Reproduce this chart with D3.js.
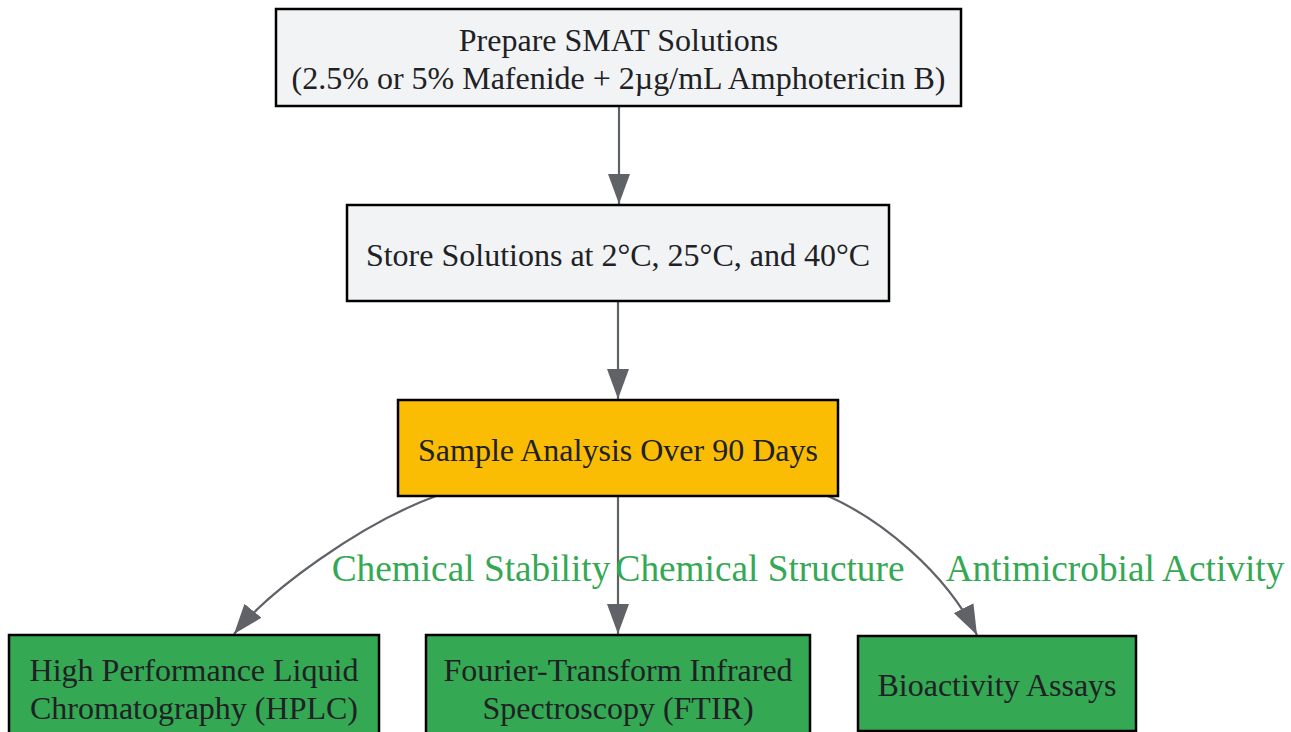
<!DOCTYPE html>
<html>
<head>
<meta charset="utf-8">
<script src="https://cdn.jsdelivr.net/npm/d3@7"></script>
<style>
  body { margin: 0; background: #fff; }
  svg { display: block; font-family: "Liberation Serif", "Times New Roman", serif; }
</style>
</head>
<body>
<svg id="chart" width="1291" height="732"></svg>
<script>
// node ids, labels and colour group
const nodeIds = ["prep", "store", "sample", "hplc", "ftir", "bio"];
const nodeLabels = [
  ["Prepare SMAT Solutions", "(2.5% or 5% Mafenide + 2µg/mL Amphotericin B)"],
  ["Store Solutions at 2°C, 25°C, and 40°C"],
  ["Sample Analysis Over 90 Days"],
  ["High Performance Liquid", "Chromatography (HPLC)"],
  ["Fourier-Transform Infrared", "Spectroscopy (FTIR)"],
  ["Bioactivity Assays"]
];
const nodeKinds = ["step", "step", "hub", "method", "method", "method"];

// edges: source, target, label
const edgeSources = ["prep", "store", "sample", "sample", "sample"];
const edgeTargets = ["store", "sample", "hplc", "ftir", "bio"];
const edgeLabels = ["", "", "Chemical Stability", "Chemical Structure", "Antimicrobial Activity"];

// layout (boxes as x0, y0, x1, y1)
const boxes = {
  prep:   [276, 9, 961, 106],
  store:  [347, 205, 889, 301],
  sample: [398, 400, 838, 496],
  hplc:   [9, 635, 379, 739],
  ftir:   [426, 635, 810, 739],
  bio:    [858, 636, 1136, 731]
};
// edge geometry: start x offset on source bottom, end x offset on target top, control offsets
const edgeGeo = {
  "prep-store":   { s: 0 },
  "store-sample": { s: 0 },
  "sample-hplc":  { s: -182, t: 40, c1: [-76, 28], c2: [36, -44] },
  "sample-ftir":  { s: 0 },
  "sample-bio":   { s: 210, t: -20, c1: [52, 23], c2: [-32, -64] }
};
const labelPos = {
  "Chemical Stability": [471, 581],
  "Chemical Structure": [760, 581],
  "Antimicrobial Activity": [1115, 581]
};

const fills = { step: "#f1f3f4", hub: "#fbbc04", method: "#34a853" };
const edgeColor = "#5f6368";
const green = "#34a853";

const svg = d3.select("#chart");

svg.append("defs").append("marker")
  .attr("id", "arrow")
  .attr("viewBox", "0 0 30 22")
  .attr("refX", 30).attr("refY", 11)
  .attr("markerWidth", 30).attr("markerHeight", 22)
  .attr("markerUnits", "userSpaceOnUse")
  .attr("orient", "auto")
  .append("path")
  .attr("d", "M0,0 L30,11 L0,22 Z")
  .attr("fill", edgeColor);

const nodes = nodeIds.map((id, i) => ({ id, lines: nodeLabels[i], kind: nodeKinds[i], box: boxes[id] }));
const edges = edgeSources.map((s, i) => ({ source: s, target: edgeTargets[i], label: edgeLabels[i] }));

function edgePath(e) {
  const a = boxes[e.source], b = boxes[e.target];
  const g = edgeGeo[e.source + "-" + e.target];
  const sx = Math.round((a[0] + a[2]) / 2) + g.s, sy = a[3];
  const ty = b[1] - 1;
  const p = d3.path();
  p.moveTo(sx, sy);
  if (g.c1) {
    const tx = (b[0] + b[2]) / 2 + g.t;
    p.bezierCurveTo(sx + g.c1[0], sy + g.c1[1], tx + g.c2[0], ty + g.c2[1], tx, ty);
  } else {
    // straight down
    p.lineTo(sx, ty);
  }
  return p.toString();
}

svg.append("g").selectAll("path")
  .data(edges).enter().append("path")
  .attr("d", edgePath)
  .attr("fill", "none")
  .attr("stroke", edgeColor)
  .attr("stroke-width", 2.2)
  .attr("marker-end", "url(#arrow)");

const ng = svg.append("g").selectAll("g")
  .data(nodes).enter().append("g");

ng.append("rect")
  .attr("x", d => d.box[0]).attr("y", d => d.box[1])
  .attr("width", d => d.box[2] - d.box[0])
  .attr("height", d => d.box[3] - d.box[1])
  .attr("fill", d => fills[d.kind])
  .attr("stroke", "#000")
  .attr("stroke-width", 2.5);

const lineH = 38;
ng.each(function(d) {
  const cx = (d.box[0] + d.box[2]) / 2;
  const cy = (d.box[1] + d.box[3]) / 2;
  const n = d.lines.length;
  d3.select(this).selectAll("text")
    .data(d.lines).enter().append("text")
    .attr("x", cx)
    .attr("y", (l, i) => cy + (i - (n - 1) / 2) * lineH + 1.5)
    .attr("dy", "0.35em")
    .attr("text-anchor", "middle")
    .attr("font-size", 32)
    .attr("fill", "#202124")
    .text(l => l);
});

svg.append("g").selectAll("text")
  .data(edges.filter(e => e.label)).enter().append("text")
  .attr("x", d => labelPos[d.label][0])
  .attr("y", d => labelPos[d.label][1])
  .attr("text-anchor", "middle")
  .attr("font-size", 37.3)
  .attr("fill", green)
  .text(d => d.label);
</script>
</body>
</html>
